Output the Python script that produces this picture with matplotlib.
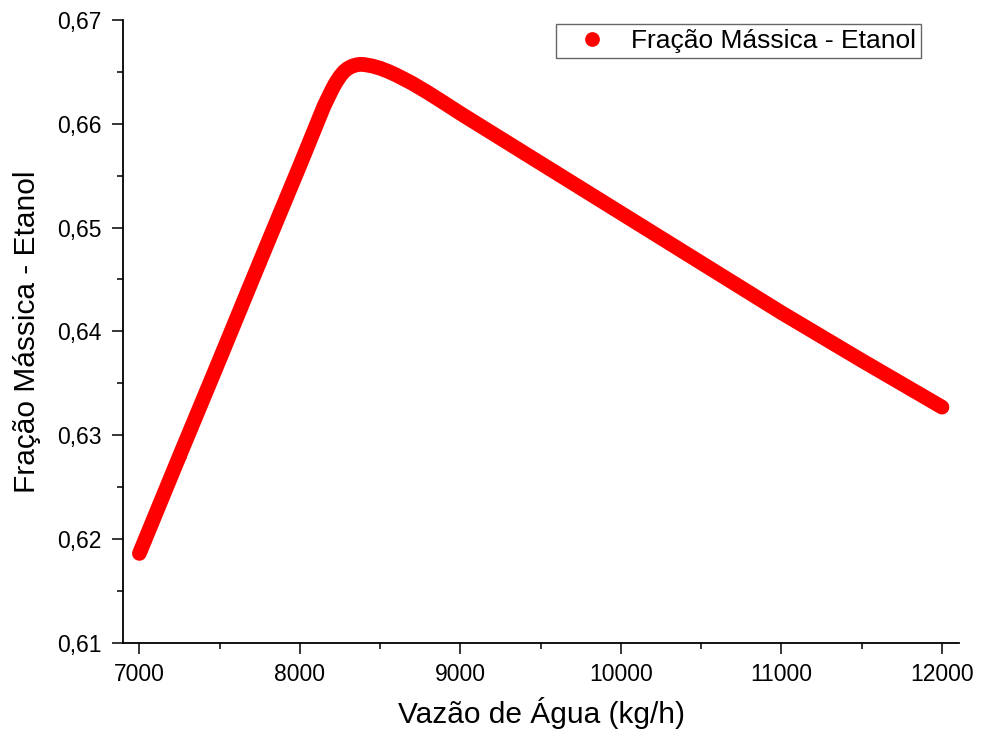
import matplotlib
matplotlib.use("Agg")
import matplotlib.pyplot as plt
from matplotlib.ticker import MultipleLocator, FuncFormatter
from matplotlib.lines import Line2D

plt.rcParams['font.family'] = ['Liberation Sans', 'DejaVu Sans']

# Water flow rate (kg/h) and ethanol mass fraction in the product stream
vazao_agua = [7000, 7250, 7500, 7750, 8000, 8100, 8150, 8200, 8225, 8250,
              8275, 8300, 8325, 8350, 8375, 8400, 8450, 8500, 8550, 8600,
              8700, 8800, 8900, 9000, 9500, 10000, 10500, 11000, 11500, 12000]
fracao_etanol = [0.61860, 0.62800, 0.63730, 0.64670, 0.65600, 0.65980,
                 0.66170, 0.66330, 0.66400, 0.66458, 0.66505, 0.66535,
                 0.66555, 0.66567, 0.66573, 0.66571, 0.66557, 0.66535,
                 0.66505, 0.66470, 0.66390, 0.66298, 0.66200, 0.66100,
                 0.65620, 0.65140, 0.64660, 0.64180, 0.63720, 0.63270]

x_ticks = [7000, 8000, 9000, 10000, 11000, 12000]
y_ticks = [0.61, 0.62, 0.63, 0.64, 0.65, 0.66, 0.67]

red = '#ff0000'
fig = plt.figure(figsize=(9.82, 7.38), dpi=100)
ax = fig.add_axes([122.7 / 982, 1 - 642.7 / 738, (959.3 - 122.7) / 982, (642.7 - 20) / 738])

# dense thick series: round-capped line through the points, dots kept inside it
ax.plot(vazao_agua, fracao_etanol, color=red, lw=10.6,
        solid_capstyle='round', solid_joinstyle='round',
        marker='o', ms=9.0, mec='none', mfc=red)

ax.set_xlim(6896, 12108)
ax.set_ylim(0.61, 0.67)
ax.set_xticks(x_ticks)
ax.set_yticks(y_ticks)
ax.xaxis.set_minor_locator(MultipleLocator(500))
ax.yaxis.set_minor_locator(MultipleLocator(0.005))
ax.yaxis.set_major_formatter(FuncFormatter(lambda v, p: f"{v:.2f}".replace('.', ',')))
ax.xaxis.set_major_formatter(FuncFormatter(lambda v, p: f"{int(round(v))}"))

for s in ('top', 'right'):
    ax.spines[s].set_visible(False)
for s in ('left', 'bottom'):
    ax.spines[s].set_linewidth(1.3)

ax.tick_params(which='major', direction='out', length=8, width=1.1, labelsize=16.5)
ax.tick_params(which='minor', direction='out', length=4, width=1.1)
ax.tick_params(axis='y', which='major', pad=7)
ax.tick_params(axis='x', which='major', pad=6.5)

ax.set_xlabel('Vazão de Água (kg/h)', fontsize=21.5, labelpad=8)
ax.set_ylabel('Fração Mássica - Etanol', fontsize=21.5, labelpad=12)

handle = Line2D([], [], color=red, marker='o', ms=10.6, mec='none', ls='none')
leg = ax.legend([handle], ['Fração Mássica - Etanol'], loc='upper right',
                bbox_to_anchor=(921 / 982, 1 - 24 / 738), bbox_transform=fig.transFigure,
                borderaxespad=0, fontsize=19, frameon=True, fancybox=False,
                borderpad=0.18, handlelength=2.37, handletextpad=0.29)
leg.get_frame().set_edgecolor('#404040')
leg.get_frame().set_linewidth(1.0)

fig.savefig('out.png', dpi=100, facecolor='white')
